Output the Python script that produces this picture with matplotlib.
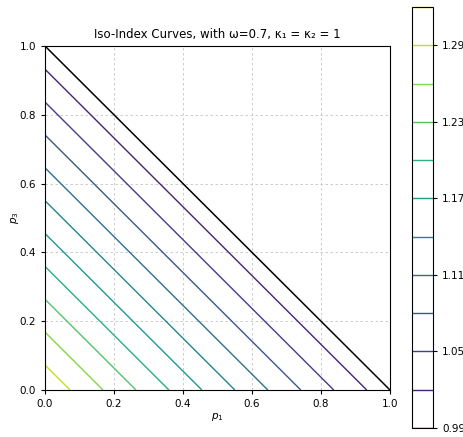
import matplotlib
matplotlib.use("Agg")
import matplotlib.pyplot as plt
import numpy as np

# index value read at the corners of the simplex (p1 + p3 = 0 and p1 + p3 = 1)
s_ends = [0.0, 1.0]
index_ends = [1.3128, 0.9988]

# contour levels shown in the colorbar
levels = [0.99, 1.02, 1.05, 1.08, 1.11, 1.14, 1.17, 1.20, 1.23, 1.26, 1.29, 1.32]
cbar_ticks = [0.99, 1.05, 1.11, 1.17, 1.23, 1.29]

omega = 0.7

p1 = np.linspace(0, 1, 401)
p3 = np.linspace(0, 1, 401)
P1, P3 = np.meshgrid(p1, p3)
S = P1 + P3
Z = np.interp(S, s_ends, index_ends)
Z = np.ma.masked_where(S > 1.0 + 1e-9, Z)

fig = plt.figure(figsize=(4.64, 4.37), dpi=100)
ax = fig.add_axes([45 / 464, 47 / 437, 345 / 464, 344 / 437])
cax = fig.add_axes([412 / 464, 9 / 437, 21 / 464, 421 / 437])

cs = ax.contour(P1, P3, Z, levels=levels, cmap="viridis", linewidths=1.0,
                vmin=levels[0], vmax=levels[-1])
ax.plot([0, 1], [1, 0], color="black", linewidth=1.1)

ax.set_xlim(0, 1)
ax.set_ylim(0, 1)
ax.grid(True, linestyle=(0, (3, 3)), color="#c4c4c4", linewidth=0.6)
ax.set_xlabel("$p_1$", fontsize=7.5, labelpad=1.5)
ax.set_ylabel("$p_3$", fontsize=7.5, labelpad=-1)
ax.tick_params(labelsize=7.5, length=3)
ax.set_title("Iso-Index Curves, with \u03c9=%.1f, \u03ba\u2081 = \u03ba\u2082 = 1" % omega,
             fontsize=8.5)

cb = fig.colorbar(cs, cax=cax)
cb.set_ticks(cbar_ticks)
cb.ax.tick_params(labelsize=7.5, length=3)

fig.savefig("out.png", dpi=100)
